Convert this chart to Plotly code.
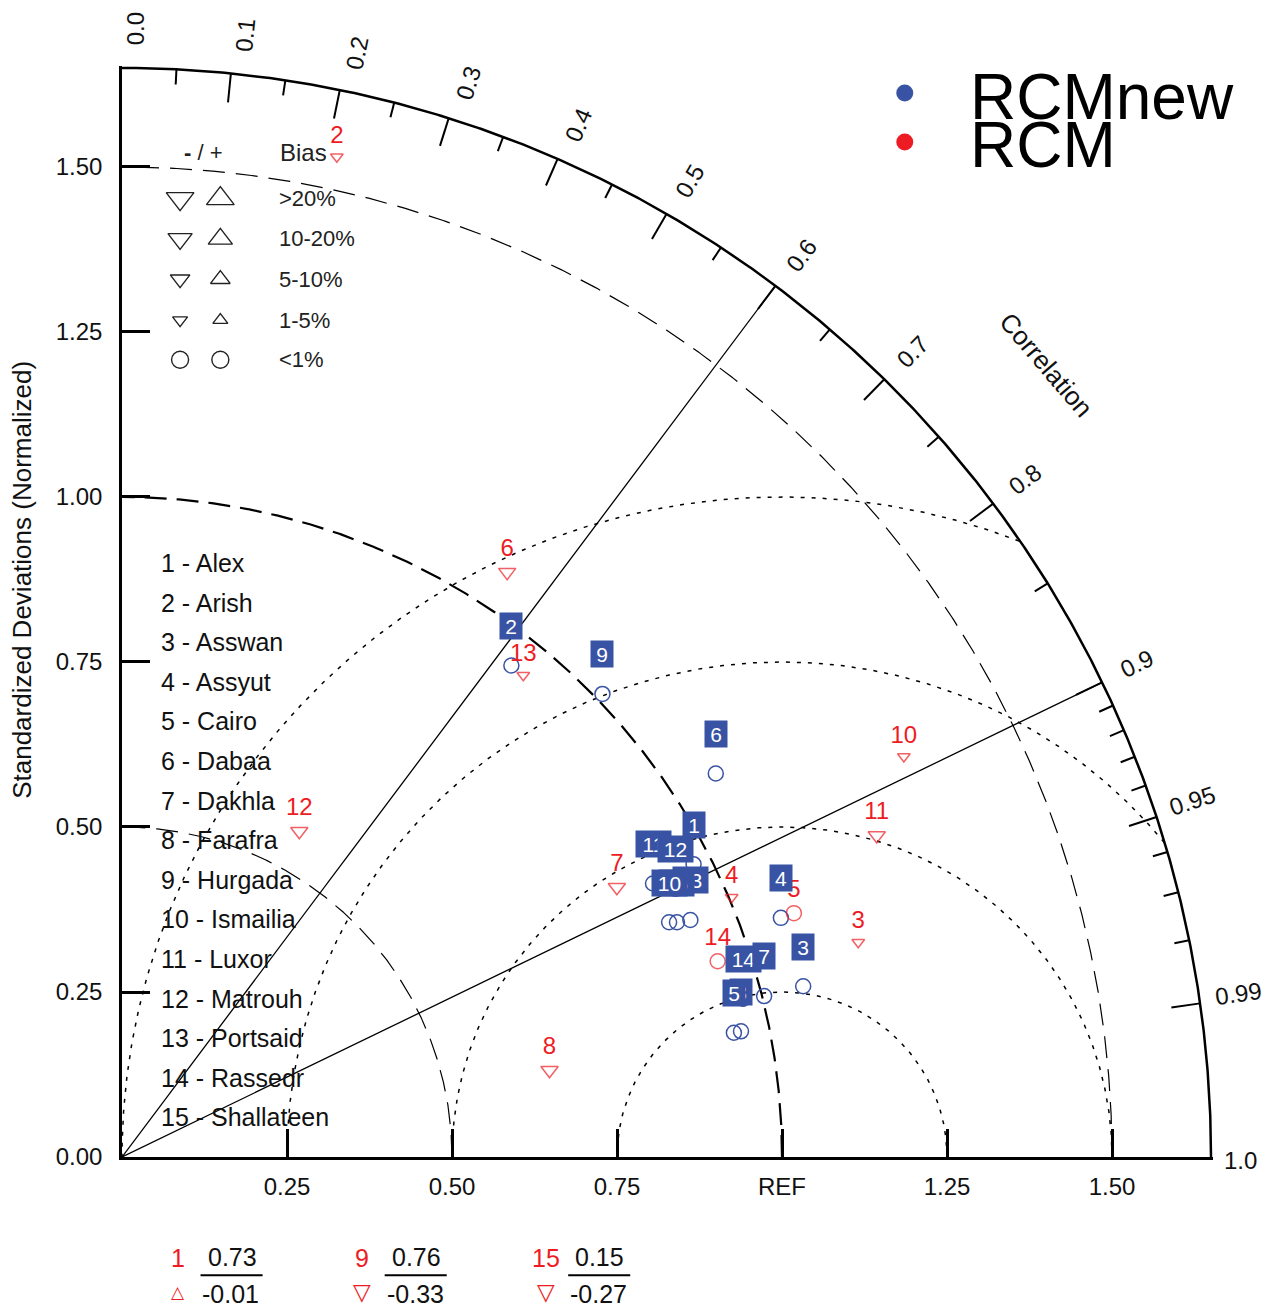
import numpy as np
import plotly.graph_objects as go

# ---------------- data ----------------
station_names = ["Alex", "Arish", "Asswan", "Assyut", "Cairo", "Dabaa", "Dakhla",
                 "Farafra", "Hurgada", "Ismailia", "Luxor", "Matrouh", "Portsaid",
                 "Rassedr", "Shallateen"]

# RCMnew (blue) : normalized standard deviation and correlation
new_ids = [1, 2, 3, 4, 5, 6, 7, 8, 9, 10, 11, 12, 13, 14, 15]
new_std = [0.973, 0.950, 1.064, 1.062, 0.946, 1.071, 1.003, 0.957, 1.011, 0.902,
           0.905, 0.932, 0.933, 0.971, 0.913]
new_corr = [0.890, 0.621, 0.970, 0.940, 0.980, 0.840, 0.970, 0.980, 0.720, 0.919,
            0.889, 0.900, 0.923, 0.969, 0.921]

# RCM (red)
rcm_ids = [2, 3, 4, 5, 6, 7, 8, 10, 11, 12, 13, 14]
rcm_std = [1.550, 1.162, 1.004, 1.083, 1.061, 0.854, 0.661, 1.331, 1.243, 0.562, 0.950, 0.950]
rcm_corr = [0.210, 0.960, 0.920, 0.940, 0.550, 0.878, 0.980, 0.890, 0.920, 0.478, 0.640, 0.950]
rcm_bias_class = ["1-5%", "1-5%", "1-5%", "<1%", "5-10%", "5-10%", "5-10%", "1-5%",
                  "5-10%", "5-10%", "1-5%", "<1%"]
rcm_bias_sign = [-1, -1, -1, -1, -1, -1, -1, -1, -1, -1, -1, -1]

# RCM cases outside the diagram (listed below it)
out_ids = [1, 9, 15]
out_top = ["0.73", "0.76", "0.15"]
out_bottom = ["-0.01", "-0.33", "-0.27"]
out_bias_class = ["1-5%", "5-10%", "5-10%"]
out_bias_sign = [1, -1, -1]

std_tick_vals = [0.0, 0.25, 0.50, 0.75, 1.00, 1.25, 1.50]
y_tick_text = ["0.00", "0.25", "0.50", "0.75", "1.00", "1.25", "1.50"]
x_tick_vals = [0.25, 0.50, 0.75, 1.00, 1.25, 1.50]
x_tick_text = ["0.25", "0.50", "0.75", "REF", "1.25", "1.50"]

corr_label_vals = [0.0, 0.1, 0.2, 0.3, 0.4, 0.5, 0.6, 0.7, 0.8, 0.9, 0.95, 0.99, 1.0]
corr_label_text = ["0.0", "0.1", "0.2", "0.3", "0.4", "0.5", "0.6", "0.7", "0.8",
                   "0.9", "0.95", "0.99", "1.0"]
corr_major = [0.1, 0.2, 0.3, 0.4, 0.5, 0.6, 0.7, 0.8, 0.9, 0.95, 0.99]
corr_minor = [0.05, 0.15, 0.25, 0.35, 0.45, 0.55, 0.65, 0.75, 0.85,
              0.91, 0.92, 0.93, 0.94, 0.96, 0.97, 0.98]
radial_lines = [0.6, 0.9]
std_arcs_thin = [0.5, 1.5]
std_arc_ref = [1.0]
rms_arcs = [0.25, 0.5, 0.75, 1.0]

bias_classes = [">20%", "10-20%", "5-10%", "1-5%", "<1%"]

# ---------------- style ----------------
BLUE = "#3953a4"
RED = "#ed1c24"
FONT = "Liberation Sans, Arial, Helvetica, sans-serif"
RMAX = 1.65
RANGE = 1.653
size_map = {">20%": 22, "10-20%": 19, "5-10%": 15, "1-5%": 11, "<1%": 15}
glyph_size = {"1-5%": 17, "5-10%": 23}
# small angular nudges (degrees) and radii for the correlation labels
label_nudge = [-0.7, -0.5, -0.46, -0.44, -0.3, -0.17, -0.13, -0.05, 0.05, 0.1, 0.2, 0.24, -0.2]
label_radius = [1.71] * 12 + [1.695]


def symbol_for(cls, sign):
    if cls == "<1%":
        return "circle-open"
    return "triangle-up-open" if sign > 0 else "triangle-down-open"


def to_xy(s, c):
    s = np.asarray(s, float)
    c = np.asarray(c, float)
    return s * c, s * np.sqrt(1 - c ** 2)


def pp(v):
    """diagram units -> paper fraction (both axes share the same scale)"""
    return v / RANGE


fig = go.Figure()


def add_line(xs, ys, width=1.0, dash="solid", color="black"):
    fig.add_trace(go.Scatter(x=xs, y=ys, mode="lines", hoverinfo="skip",
                             line=dict(color=color, width=width, dash=dash),
                             showlegend=False))


th = np.linspace(0, np.pi / 2, 600)
# std arcs
for r in std_arcs_thin:
    add_line(r * np.cos(th), r * np.sin(th), width=1.2, dash="22px,11px")
for r in std_arc_ref:
    add_line(r * np.cos(th), r * np.sin(th), width=2.2, dash="22px,10px")

# RMS arcs around REF
phi = np.linspace(0, np.pi, 800)
for d in rms_arcs:
    xs = 1 + d * np.cos(phi)
    ys = d * np.sin(phi)
    keep = xs ** 2 + ys ** 2 <= RMAX ** 2
    add_line(xs[keep], ys[keep], width=1.5, dash="4px,7px")

# radial correlation lines
for c in radial_lines:
    t = np.arccos(c)
    add_line([0, RMAX * np.cos(t)], [0, RMAX * np.sin(t)], width=1.3)

# outer arc
add_line(RMAX * np.cos(th), RMAX * np.sin(th), width=2.5)

# correlation ticks
tx, ty = [], []
for c in corr_major:
    t = np.arccos(c)
    tx += [RMAX * np.cos(t), (RMAX - 0.044) * np.cos(t), None]
    ty += [RMAX * np.sin(t), (RMAX - 0.044) * np.sin(t), None]
for c in corr_minor:
    t = np.arccos(c)
    tx += [RMAX * np.cos(t), (RMAX - 0.023) * np.cos(t), None]
    ty += [RMAX * np.sin(t), (RMAX - 0.023) * np.sin(t), None]
add_line(tx, ty, width=2.0)

# ---------------- data marks ----------------
bx, by = to_xy(new_std, new_corr)
fig.add_trace(go.Scatter(x=bx, y=by, mode="markers", showlegend=False,
                         marker=dict(symbol="circle-open", size=15, color=BLUE,
                                     line=dict(color=BLUE, width=1.5))))

rx, ry = to_xy(rcm_std, rcm_corr)
fig.add_trace(go.Scatter(
    x=rx, y=ry, mode="markers+text", showlegend=False,
    text=[str(i) for i in rcm_ids], textposition="top center",
    textfont=dict(color=RED, size=24, family=FONT),
    marker=dict(symbol=[symbol_for(c, s) for c, s in zip(rcm_bias_class, rcm_bias_sign)],
                size=[size_map[c] for c in rcm_bias_class],
                color=RED, line=dict(color=RED, width=1.5)),
    cliponaxis=False))

annotations = []


def note(x, y, text, size=24, color="#111", **kw):
    d = dict(x=pp(x), y=pp(y), xref="paper", yref="paper", text=text,
             showarrow=False, xanchor="center", yanchor="middle",
             font=dict(size=size, family=kw.pop("family", FONT), color=color))
    d.update(kw)
    annotations.append(d)


# blue label boxes
box_order = [8, 13, 15, 11, 12, 1, 10, 14, 7, 5, 2, 3, 4, 6, 9]
for sid in box_order:
    k = new_ids.index(sid)
    annotations.append(dict(x=bx[k], y=by[k] + 0.06, xref="x", yref="y",
                            text=str(sid), showarrow=False,
                            font=dict(color="white", size=21, family=FONT),
                            bgcolor=BLUE, width=22 if sid < 10 else 35, height=26,
                            borderpad=0))

# ---------------- bias legend (top-left) ----------------
leg_rows_y = [1.452, 1.391, 1.330, 1.268, 1.208]
for cls, yy in zip(bias_classes, leg_rows_y):
    fig.add_trace(go.Scatter(
        x=[0.088, 0.149], y=[yy, yy], mode="markers", showlegend=False,
        marker=dict(symbol=[symbol_for(cls, -1), symbol_for(cls, 1)],
                    size=size_map[cls] + 2,
                    color="#222", line=dict(color="#222", width=1.4))))
    note(0.235, yy, cls, size=22, color="#222", xanchor="left")
note(0.123, 1.522, "<b>-</b> / +", size=22, color="#222")
note(0.237, 1.522, "Bias", size=24, color="#222", xanchor="left")

# station list
for i, name in enumerate(station_names):
    note(0.056, 0.900 - 0.06 * i, f"{i + 1} - {name}", size=25, xanchor="left")

# model legend (top-right)
fig.add_trace(go.Scatter(x=[1.186, 1.186], y=[1.612, 1.538], mode="markers",
                         showlegend=False,
                         marker=dict(size=17, color=[BLUE, RED])))
note(1.282, 1.606, "RCMnew", size=64, color="black", xanchor="left")
note(1.282, 1.534, "RCM", size=64, color="black", xanchor="left")

# correlation labels
for v, lab, nud, rad in zip(corr_label_vals, corr_label_text, label_nudge, label_radius):
    tdeg = np.degrees(np.arccos(v))
    a = np.radians(tdeg + nud)
    note(rad * np.cos(a), rad * np.sin(a), lab, size=24, textangle=-tdeg)
note(1.845 * np.cos(np.radians(40.6)), 1.845 * np.sin(np.radians(40.6)),
     "Correlation", size=26, textangle=49.4)

# y axis title
note(-0.152, 0.874, "Standardized Deviations (Normalized)", size=26, textangle=-90)

# out-of-range table
shapes = []
col_x = [0.085, 0.364, 0.642]
for j, sid in enumerate(out_ids):
    cx = col_x[j]
    note(cx, -0.153, str(sid), size=25, color=RED)
    note(cx + 0.082, -0.152, out_top[j], size=25)
    note(cx + 0.080, -0.208, out_bottom[j], size=25)
    glyph = "\u25b3" if out_bias_sign[j] > 0 else "\u25bd"
    note(cx, -0.204, glyph, size=glyph_size[out_bias_class[j]], color=RED,
         family="DejaVu Sans")
    shapes.append(dict(type="line", xref="paper", yref="paper",
                       x0=pp(cx + 0.034), x1=pp(cx + 0.128),
                       y0=pp(-0.179), y1=pp(-0.179), line=dict(color="black", width=2)))

fig.update_layout(
    width=1275, height=1308,
    margin=dict(l=122, r=62, t=66, b=151),
    paper_bgcolor="white", plot_bgcolor="white",
    showlegend=False,
    annotations=annotations, shapes=shapes,
    font=dict(family=FONT, color="#111"),
    xaxis=dict(range=[0, RANGE], showgrid=False, zeroline=False,
               showline=True, linewidth=2.5, linecolor="black",
               ticks="inside", ticklen=28, tickwidth=2.5, tickcolor="black",
               tickvals=x_tick_vals, ticktext=x_tick_text,
               tickfont=dict(size=24, family=FONT, color="#111"),
               ticklabelstandoff=6),
    yaxis=dict(range=[0, RANGE], showgrid=False, zeroline=False,
               showline=True, linewidth=2.5, linecolor="black",
               ticks="inside", ticklen=28, tickwidth=2.5, tickcolor="black",
               tickvals=std_tick_vals, ticktext=y_tick_text,
               tickfont=dict(size=24, family=FONT, color="#111"),
               ticklabelstandoff=12),
)

fig.write_html("out.html", config={"displayModeBar": False},
               post_script="document.body.style.margin='0px';")
